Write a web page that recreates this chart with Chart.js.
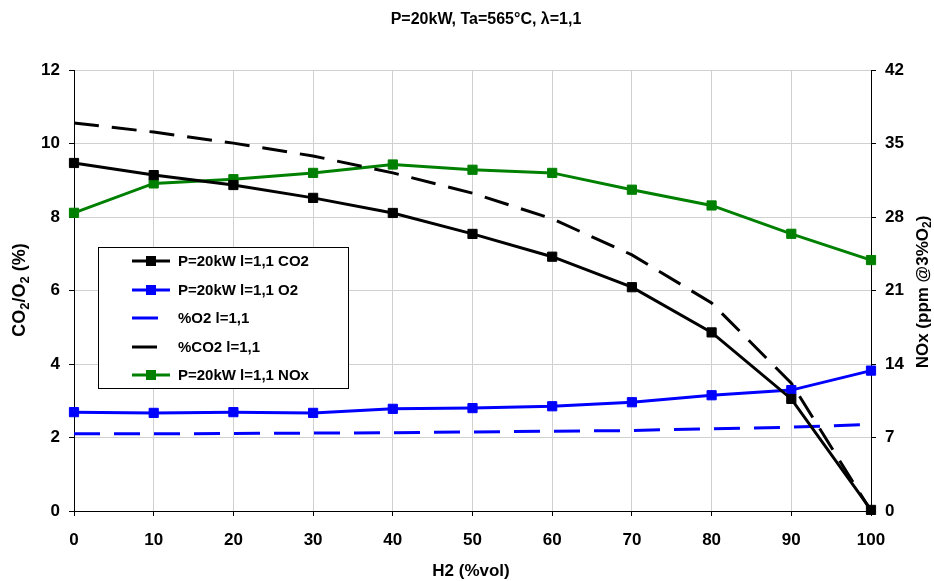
<!DOCTYPE html>
<html><head><meta charset="utf-8">
<script src="https://cdn.jsdelivr.net/npm/chart.js@4"></script>
<style>html,body{margin:0;padding:0;background:#fff}#wrap{width:934px;height:581px;position:relative}</style>
</head><body><div id="wrap"><canvas id="c" width="934" height="581"></canvas></div>
<script>
const h2Vol = [0, 10, 20, 30, 40, 50, 60, 70, 80, 90, 100];
const co2Meas = [9.47, 9.14, 8.87, 8.52, 8.11, 7.54, 6.92, 6.09, 4.86, 3.05, 0.03];
const o2Meas = [2.69, 2.67, 2.69, 2.67, 2.78, 2.80, 2.85, 2.96, 3.15, 3.29, 3.82];
const o2Calc = [2.10, 2.10, 2.11, 2.12, 2.13, 2.15, 2.17, 2.19, 2.24, 2.28, 2.36];
const co2Calc = [10.56, 10.31, 10.01, 9.66, 9.20, 8.65, 7.95, 6.97, 5.66, 3.48, 0.0];
const noxMeas = [28.4, 31.2, 31.6, 32.2, 33.0, 32.5, 32.2, 30.6, 29.1, 26.4, 23.9];
const seriesNames = ['P=20kW l=1,1 CO2', 'P=20kW l=1,1 O2', '%O2 l=1,1', '%CO2 l=1,1', 'P=20kW l=1,1 NOx'];
const chartTitle = 'P=20kW, Ta=565°C, λ=1,1';
const xTitle = 'H2 (%vol)';
const yTitleParts = [['CO', 0], ['2', 1], ['/O', 0], ['2', 1], [' (%)', 0]];
const y1TitleParts = [['NOx (ppm @3%O', 0], ['2', 1], [')', 0]];

const FONT = '"Liberation Sans", Arial, sans-serif';
const BLACK = '#000000', BLUE = '#0000FF', GREEN = '#008000';

function pts(ys) { return h2Vol.map((x, i) => ({ x: x, y: ys[i] })); }

const datasets = [
  { label: seriesNames[0], data: pts(co2Meas), borderColor: BLACK, backgroundColor: BLACK, borderWidth: 3,
    pointStyle: 'rect', pointRadius: 6.5, pointBorderWidth: 1, yAxisID: 'y' },
  { label: seriesNames[1], data: pts(o2Meas), borderColor: BLUE, backgroundColor: BLUE, borderWidth: 3,
    pointStyle: 'rect', pointRadius: 6.5, pointBorderWidth: 1, yAxisID: 'y' },
  { label: seriesNames[2], data: pts(o2Calc), borderColor: BLUE, backgroundColor: BLUE, borderWidth: 3,
    borderDash: [26, 14], pointRadius: 0, yAxisID: 'y' },
  { label: seriesNames[3], data: pts(co2Calc), borderColor: BLACK, backgroundColor: BLACK, borderWidth: 3,
    borderDash: [25, 13], pointRadius: 0, yAxisID: 'y' },
  { label: seriesNames[4], data: pts(noxMeas), borderColor: GREEN, backgroundColor: GREEN, borderWidth: 3,
    pointStyle: 'rect', pointRadius: 6.5, pointBorderWidth: 1, yAxisID: 'y1' }
];

function drawRich(ctx, parts, size) {
  let total = 0;
  const items = parts.map(([t, sub]) => {
    const f = 'bold ' + (sub ? Math.round(size * 0.7) : size) + 'px ' + FONT;
    ctx.font = f;
    const w = ctx.measureText(t).width;
    total += w;
    return { t, sub, f, w };
  });
  let x = -total / 2;
  items.forEach(it => {
    ctx.font = it.f;
    ctx.fillText(it.t, x, it.sub ? size * 0.3 : 0);
    x += it.w;
  });
}

const decor = {
  id: 'decor',
  afterDraw(chart) {
    const ctx = chart.ctx;
    ctx.save();
    ctx.fillStyle = BLACK;
    ctx.textBaseline = 'middle';
    ctx.textAlign = 'left';
    // main title
    ctx.save(); ctx.translate(486, 20); drawRich(ctx, [[chartTitle, 0]], 16); ctx.restore();
    // x title
    ctx.save(); ctx.translate(471, 571); drawRich(ctx, [[xTitle, 0]], 17); ctx.restore();
    // left y title
    ctx.save(); ctx.translate(20, 290); ctx.rotate(-Math.PI / 2); drawRich(ctx, yTitleParts, 18); ctx.restore();
    // right y title
    ctx.save(); ctx.translate(923, 292); ctx.rotate(-Math.PI / 2); drawRich(ctx, y1TitleParts, 17); ctx.restore();

    // legend
    const bx = 98, by = 247, bw = 250, bh = 141;
    ctx.fillStyle = '#ffffff';
    ctx.fillRect(bx, by, bw, bh);
    ctx.strokeStyle = BLACK; ctx.lineWidth = 1;
    ctx.strokeRect(bx + 0.5, by + 0.5, bw, bh);
    const rowY = [261, 290, 318, 347, 375];
    chart.data.datasets.forEach((ds, i) => {
      const y = rowY[i];
      ctx.save();
      ctx.strokeStyle = ds.borderColor; ctx.lineWidth = 3;
      ctx.setLineDash(ds.borderDash || []);
      ctx.beginPath(); ctx.moveTo(132, y); ctx.lineTo(170, y); ctx.stroke();
      ctx.restore();
      if (ds.pointRadius) {
        ctx.fillStyle = ds.backgroundColor;
        ctx.fillRect(151 - 5, y - 5, 10, 10);
      }
      ctx.fillStyle = BLACK;
      ctx.font = 'bold 15px ' + FONT;
      ctx.textAlign = 'left';
      ctx.fillText(ds.label, 178, y + 1);
    });
    ctx.restore();
  }
};

const tickFont = { family: FONT, size: 17, weight: 'bold' };
new Chart(document.getElementById('c'), {
  type: 'line',
  data: { datasets },
  options: {
    responsive: false,
    animation: false,
    devicePixelRatio: 1,
    clip: false,
    layout: { padding: { top: 70, left: 0, right: 0, bottom: 0 } },
    plugins: { legend: { display: false }, tooltip: { enabled: false }, title: { display: false } },
    elements: { line: { tension: 0 } },
    scales: {
      x: {
        type: 'linear', min: 0, max: 100,
        ticks: { stepSize: 10, font: tickFont, color: BLACK, padding: 14 },
        grid: { color: '#d0d0d0', tickColor: BLACK, tickLength: 5, lineWidth: 1 },
        border: { color: BLACK, width: 1 },
        afterFit: s => { s.height = 70; }
      },
      y: {
        position: 'left', min: 0, max: 12,
        ticks: { stepSize: 2, font: tickFont, color: BLACK, padding: 9 },
        grid: { color: '#d0d0d0', tickColor: BLACK, tickLength: 5 },
        border: { color: BLACK, width: 1 },
        afterFit: s => { s.width = 74; }
      },
      y1: {
        position: 'right', min: 0, max: 42,
        ticks: { stepSize: 7, font: tickFont, color: BLACK, padding: 9 },
        grid: { drawOnChartArea: false, tickColor: BLACK, tickLength: 5 },
        border: { color: BLACK, width: 1 },
        afterFit: s => { s.width = 63; }
      }
    }
  },
  plugins: [decor]
});
</script></body></html>
